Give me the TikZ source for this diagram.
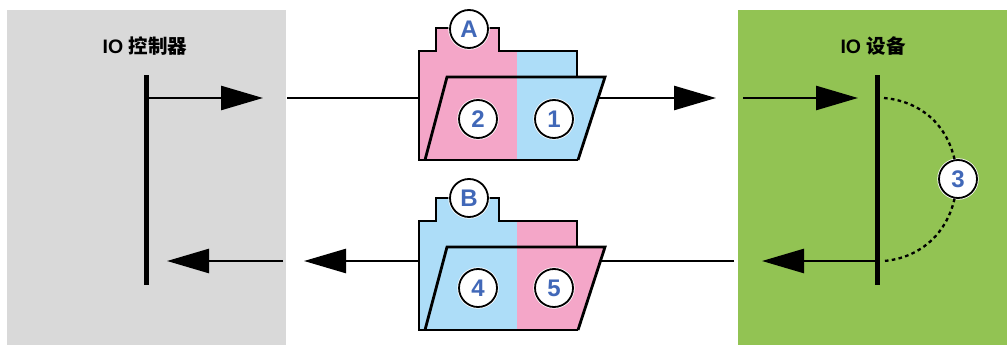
\documentclass[tikz,border=0pt]{standalone}
\usepackage{fontspec}
\setmainfont{Liberation Sans}
\newfontfamily\cjk{Noto Sans CJK SC}
\usetikzlibrary{arrows.meta}
\definecolor{pinkc}{HTML}{F4A6C8}
\definecolor{bluec}{HTML}{ADDDF8}
\definecolor{greenc}{HTML}{92C353}
\definecolor{grayc}{HTML}{D9D9D9}
\definecolor{numc}{HTML}{4168B8}
\tikzset{
  panel/.style={rectangle,draw=none,inner sep=0pt,anchor=north west},
  bar/.style={rectangle,fill=black,draw=none,inner sep=0pt,minimum width=5pt,minimum height=210pt},
  title/.style={font=\bfseries\fontsize{19.5}{22}\selectfont,inner sep=0pt,text=black},
  badge/.style={circle,draw=black,line width=1.8pt,fill=white,minimum size=38pt,inner sep=0pt,
    font=\bfseries\fontsize{24}{25}\selectfont,text=numc,
    preaction={draw=white,line width=3.4pt}},
  wire/.style={draw=black,line width=2.6pt},
  arr/.style={wire,-{Triangle[length=42pt,width=24pt]}},
  folderline/.style={draw=black,line width=2.8pt,line join=miter},
  dots/.style={draw=black,line width=2.3pt,dash pattern=on 3.6pt off 3.3pt}
}
\begin{document}
\begin{tikzpicture}[x=1pt,y=-1pt]
\useasboundingbox (0,0) rectangle (1007,345);
\fill[white] (0,0) rectangle (1007,345);
\node[panel,fill=grayc,minimum width=279pt,minimum height=335pt] (ctrl) at (7,10) {};
\node[panel,fill=greenc,minimum width=269pt,minimum height=335pt] (dev) at (738,10) {};
\node[title] (ctrlT) at (145,46) {IO {\cjk 控制器}};
\node[title] (devT) at (873,46) {IO {\cjk 设备}};
\node[bar] (barL) at (146,180) {};
\node[bar] (barR) at (877,180) {};
% named ends
\coordinate (a1) at (146,98);   \coordinate (a1t) at (263,98);
\coordinate (a2) at (287,98);   \coordinate (fAl) at (419,98);
\coordinate (fAr) at (598,98);  \coordinate (a2t) at (716,98);
\coordinate (a3) at (743,98);   \coordinate (a3t) at (858,98);
\coordinate (b1) at (877,261);  \coordinate (b1t) at (762,261);
\coordinate (b2) at (734,261);  \coordinate (fBr) at (598,261);
\coordinate (fBl) at (419,261); \coordinate (b2t) at (304,261);
\coordinate (b3) at (283,261);  \coordinate (b3t) at (167,261);
\draw[arr] (a1) -- (a1t);
\draw[wire] (a2) -- (fAl);
\draw[arr] (fAr) -- (a2t);
\draw[arr] (a3) -- (a3t);
\draw[arr] (b1) -- (b1t);
\draw[wire] (b2) -- (fBr);
\draw[arr] (fBl) -- (b2t);
\draw[arr] (b3) -- (b3t);
% folder A
\fill[pinkc] (419,160) -- (419,51) -- (436,51) -- (436,28) -- (499,28) -- (499,51) -- (517,51) -- (517,160) -- cycle;
\fill[bluec] (517,51) -- (577,51) -- (577,77) -- (605,77) -- (578,160) -- (517,160) -- cycle;
\draw[folderline] (578,160) -- (419,160) -- (419,51) -- (436,51) -- (436,28) -- (499,28) -- (499,51) -- (577,51) -- (577,77);
\draw[folderline] (425,160) -- (447,77) -- (605,77) -- (578,160);
% folder B
\fill[bluec] (419,330) -- (419,221) -- (436,221) -- (436,198) -- (499,198) -- (499,221) -- (517,221) -- (517,330) -- cycle;
\fill[pinkc] (517,221) -- (577,221) -- (577,247) -- (605,247) -- (578,330) -- (517,330) -- cycle;
\draw[folderline] (578,330) -- (419,330) -- (419,221) -- (436,221) -- (436,198) -- (499,198) -- (499,221) -- (577,221) -- (577,247);
\draw[folderline] (425,330) -- (447,247) -- (605,247) -- (578,330);
% badges
\node[badge] (nA) at (469,29) {A};
\node[badge] (nB) at (469,198) {B};
\node[badge] (n1) at (554,119) {1};
\node[badge] (n2) at (478,119) {2};
\node[badge] (n4) at (478,288) {4};
\node[badge] (n5) at (554,288) {5};
\node[badge] (n3) at (958,179) {3};
\coordinate (d1) at (884,98);
\coordinate (d2) at (884,261);
\draw[dots] (d1) .. controls (918,101) and (946,122) .. (n3.100);
\draw[dots] (n3.260) .. controls (946,236) and (918,258) .. (d2);
\end{tikzpicture}
\end{document}
